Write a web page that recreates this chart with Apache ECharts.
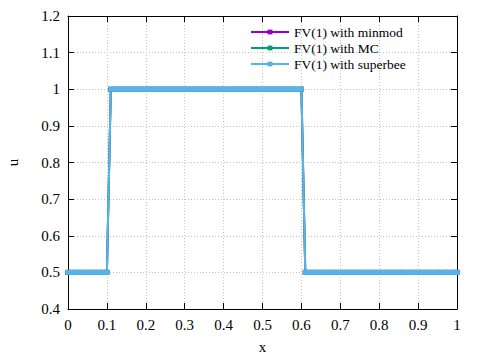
<!DOCTYPE html>
<html><head><meta charset="utf-8">
<script src="https://cdn.jsdelivr.net/npm/echarts@6/dist/echarts.min.js"></script>
<style>html,body{margin:0;padding:0;background:#fff}#c{width:480px;height:360px}</style>
</head><body><div id="c"></div>
<script>
const xs = [
 0.00,0.01,0.02,0.03,0.04,0.05,0.06,0.07,0.08,0.09,
 0.10,0.11,0.12,0.13,0.14,0.15,0.16,0.17,0.18,0.19,
 0.20,0.21,0.22,0.23,0.24,0.25,0.26,0.27,0.28,0.29,
 0.30,0.31,0.32,0.33,0.34,0.35,0.36,0.37,0.38,0.39,
 0.40,0.41,0.42,0.43,0.44,0.45,0.46,0.47,0.48,0.49,
 0.50,0.51,0.52,0.53,0.54,0.55,0.56,0.57,0.58,0.59,
 0.60,0.61,0.62,0.63,0.64,0.65,0.66,0.67,0.68,0.69,
 0.70,0.71,0.72,0.73,0.74,0.75,0.76,0.77,0.78,0.79,
 0.80,0.81,0.82,0.83,0.84,0.85,0.86,0.87,0.88,0.89,
 0.90,0.91,0.92,0.93,0.94,0.95,0.96,0.97,0.98,0.99,
 1.00];
const uMinmod = [
 0.5,0.5,0.5,0.5,0.5,0.5,0.5,0.5,0.5,0.5,
 0.5,1,1,1,1,1,1,1,1,1,
 1,1,1,1,1,1,1,1,1,1,
 1,1,1,1,1,1,1,1,1,1,
 1,1,1,1,1,1,1,1,1,1,
 1,1,1,1,1,1,1,1,1,1,
 1,0.5,0.5,0.5,0.5,0.5,0.5,0.5,0.5,0.5,
 0.5,0.5,0.5,0.5,0.5,0.5,0.5,0.5,0.5,0.5,
 0.5,0.5,0.5,0.5,0.5,0.5,0.5,0.5,0.5,0.5,
 0.5,0.5,0.5,0.5,0.5,0.5,0.5,0.5,0.5,0.5,
 0.5];
const uMC = [
 0.5,0.5,0.5,0.5,0.5,0.5,0.5,0.5,0.5,0.5,
 0.5,1,1,1,1,1,1,1,1,1,
 1,1,1,1,1,1,1,1,1,1,
 1,1,1,1,1,1,1,1,1,1,
 1,1,1,1,1,1,1,1,1,1,
 1,1,1,1,1,1,1,1,1,1,
 1,0.5,0.5,0.5,0.5,0.5,0.5,0.5,0.5,0.5,
 0.5,0.5,0.5,0.5,0.5,0.5,0.5,0.5,0.5,0.5,
 0.5,0.5,0.5,0.5,0.5,0.5,0.5,0.5,0.5,0.5,
 0.5,0.5,0.5,0.5,0.5,0.5,0.5,0.5,0.5,0.5,
 0.5];
const uSuperbee = [
 0.5,0.5,0.5,0.5,0.5,0.5,0.5,0.5,0.5,0.5,
 0.5,1,1,1,1,1,1,1,1,1,
 1,1,1,1,1,1,1,1,1,1,
 1,1,1,1,1,1,1,1,1,1,
 1,1,1,1,1,1,1,1,1,1,
 1,1,1,1,1,1,1,1,1,1,
 1,0.5,0.5,0.5,0.5,0.5,0.5,0.5,0.5,0.5,
 0.5,0.5,0.5,0.5,0.5,0.5,0.5,0.5,0.5,0.5,
 0.5,0.5,0.5,0.5,0.5,0.5,0.5,0.5,0.5,0.5,
 0.5,0.5,0.5,0.5,0.5,0.5,0.5,0.5,0.5,0.5,
 0.5];
const seriesNames = ['FV(1) with minmod','FV(1) with MC','FV(1) with superbee'];
const seriesColors = ['#9400d3','#009e73','#56b4e9'];
const seriesValues = [uMinmod, uMC, uSuperbee];

const FONT = 'Liberation Serif';
const fmt = v => String(Math.round(v*10)/10);
const chart = echarts.init(document.getElementById('c'), null, {renderer:'svg'});
const tick = () => ({show:true, inside:true, length:6, lineStyle:{color:'#000', width:1}});
const line = () => ({show:true, onZero:false, lineStyle:{color:'#000', width:1}});
const gl = () => ({show:true, lineStyle:{color:'#c4c4c4', width:1, type:[1,2]}});
const lab = () => ({fontFamily:FONT, fontSize:15, color:'#000', formatter:fmt});
chart.setOption({
  animation:false,
  grid:{left:68, right:23, top:16, bottom:51, outerBoundsMode:'none'},
  legend:{
    orient:'vertical', left:250, top:25, padding:0, itemGap:2,
    itemWidth:38, itemHeight:6,
    textStyle:{fontFamily:FONT, fontSize:13.5, color:'#000'},
    data:seriesNames
  },
  xAxis:[{
    type:'value', min:0, max:1, interval:0.1,
    name:'x', nameLocation:'middle', nameGap:30,
    nameTextStyle:{fontFamily:FONT, fontSize:15, color:'#000'},
    axisLine:line(), axisTick:tick(), axisLabel:lab(), splitLine:gl()
  },{
    type:'value', min:0, max:1, interval:0.1, position:'top',
    axisLine:line(), axisTick:tick(), axisLabel:{show:false}, splitLine:{show:false}
  }],
  yAxis:[{
    type:'value', min:0.4, max:1.2, interval:0.1,
    name:'u', nameLocation:'middle', nameGap:48,
    nameTextStyle:{fontFamily:FONT, fontSize:15, color:'#000'},
    axisLine:line(), axisTick:tick(), axisLabel:lab(), splitLine:gl()
  },{
    type:'value', min:0.4, max:1.2, interval:0.1, position:'right',
    axisLine:line(), axisTick:tick(), axisLabel:{show:false}, splitLine:{show:false}
  }],
  series: seriesNames.map((n,i)=>({
    name:n, type:'line', xAxisIndex:0, yAxisIndex:0,
    data: xs.map((x,j)=>[x, seriesValues[i][j]]),
    symbol:'rect', symbolSize:5, showAllSymbol:true,
    lineStyle:{color:seriesColors[i], width:2},
    itemStyle:{color:seriesColors[i]}
  }))
});
</script></body></html>
